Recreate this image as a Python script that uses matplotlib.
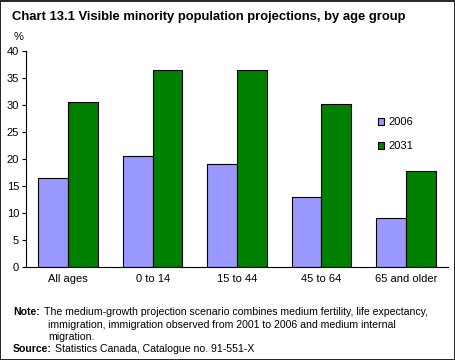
import matplotlib
matplotlib.use("Agg")
import matplotlib.pyplot as plt
import numpy as np
from matplotlib.patches import Rectangle

categories = ["All ages", "0 to 14", "15 to 44", "45 to 64", "65 and older"]
v2006 = [16.4, 20.5, 19.0, 12.9, 9.1]
v2031 = [30.6, 36.4, 36.4, 30.1, 17.8]

plt.rcParams["font.family"] = ["Liberation Sans", "DejaVu Sans"]

fig = plt.figure(figsize=(4.56, 3.6), dpi=100)
ax = fig.add_axes([26 / 456, 1 - 267.3 / 360, 422 / 456, (267.3 - 50.7) / 360])

x = np.arange(len(categories))
w = 0.353
ax.bar(x - w / 2, v2006, w, color="#9999ff", edgecolor="black", linewidth=0.8, label="2006")
ax.bar(x + w / 2, v2031, w, color="#008000", edgecolor="black", linewidth=0.8, label="2031")

ax.set_xlim(-0.5, len(categories) - 0.5)
ax.set_ylim(0, 40)
ax.set_yticks(range(0, 41, 5))
ax.set_xticks(x)
ax.set_xticklabels(categories, fontsize=8)
ax.tick_params(axis="y", labelsize=8, length=3, width=0.8, direction="out", pad=2)
ax.tick_params(axis="x", length=0, pad=5)
for s in ["top", "right"]:
    ax.spines[s].set_visible(False)
for s in ["left", "bottom"]:
    ax.spines[s].set_linewidth(0.8)

ax.legend(loc="upper left", bbox_to_anchor=(0.81, 0.74), frameon=False, fontsize=8,
          handlelength=0.6, handleheight=0.6, handletextpad=0.4, labelspacing=1.3)

fig.text(14 / 456, 1 - 37 / 360, "%", fontsize=8, ha="left", va="center")
fig.text(12 / 456, 1 - 17 / 360, "Chart 13.1 Visible minority population projections, by age group",
         fontsize=9.4, fontweight="bold", ha="left", va="center")

fs = 7.6
fig.text(13 / 456, 1 - 312 / 360, "Note:", fontsize=fs, fontweight="bold", ha="left", va="center")
fig.text(44 / 456, 1 - 312 / 360,
         "The medium-growth projection scenario combines medium fertility, life expectancy,",
         fontsize=fs, ha="left", va="center")
fig.text(48 / 456, 1 - 325 / 360,
         "immigration, immigration observed from 2001 to 2006 and medium internal",
         fontsize=fs, ha="left", va="center")
fig.text(48 / 456, 1 - 337 / 360, "migration.", fontsize=fs, ha="left", va="center")
fig.text(13 / 456, 1 - 349 / 360, "Source:", fontsize=fs, fontweight="bold", ha="left", va="center")
fig.text(55 / 456, 1 - 349 / 360, "Statistics Canada, Catalogue no. 91-551-X",
         fontsize=fs, ha="left", va="center")

fig.patches.append(Rectangle((0.001, 0.001), 0.997, 0.997, transform=fig.transFigure,
                             fill=False, edgecolor="black", linewidth=1.2))

fig.savefig("out.png", dpi=100)
